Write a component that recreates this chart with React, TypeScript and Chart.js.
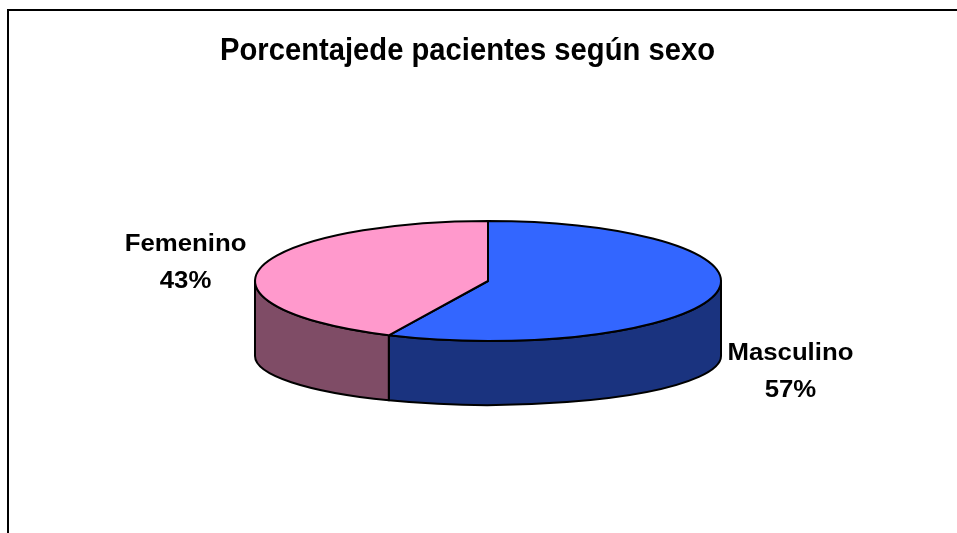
import React, { useEffect, useRef } from 'react';
import { Chart, registerables } from 'chart.js';

Chart.register(...registerables);

const TITLE = 'Porcentajede pacientes según sexo';
const categories = ['Masculino', 'Femenino'];
const values = [57, 43];
const topColors = ['#3366FF', '#FF99CC'];
const sideColors = ['#1A337F', '#7F4C66'];

const TILT = 60 / 233;
const DEPTH = 75;
const BOTTOM_TILT = 49 / 233;
const FONT = '"Liberation Sans", Arial, Helvetica, sans-serif';

export default function App() {
  const ref = useRef<HTMLCanvasElement>(null);

  useEffect(() => {
    const canvas = ref.current!;
    const total = values.reduce((a, b) => a + b, 0);

    const pie3d = {
      id: 'pie3d',
      beforeDraw(chart: any) {
        const ctx = chart.ctx;
        ctx.save();
        ctx.fillStyle = '#ffffff';
        ctx.fillRect(0, 0, chart.width, chart.height);
        ctx.strokeStyle = '#000';
        ctx.lineWidth = 2;
        ctx.beginPath();
        ctx.moveTo(8, chart.height + 2);
        ctx.lineTo(8, 10);
        ctx.lineTo(chart.width + 2, 10);
        ctx.stroke();
        ctx.restore();
      },
      beforeDatasetsDraw(chart: any) {
        const meta = chart.getDatasetMeta(0);
        const arcs = meta.data as any[];
        if (!arcs.length) return false;
        const ctx = chart.ctx;
        const cx = arcs[0].x;
        const cy = arcs[0].y;
        const rx = arcs[0].outerRadius;
        const ry = rx * TILT;
        const by = cy + DEPTH;
        const bry = rx * BOTTOM_TILT;
        ctx.save();
        ctx.lineWidth = 2;
        ctx.strokeStyle = '#000';
        ctx.lineJoin = 'round';
        // side walls (front half)
        arcs.forEach((arc, i) => {
          const a = Math.max(arc.startAngle, 0);
          const b = Math.min(arc.endAngle, Math.PI);
          if (b <= a) return;
          ctx.beginPath();
          ctx.ellipse(cx, cy, rx, ry, 0, a, b, false);
          ctx.lineTo(cx + rx * Math.cos(b), by + bry * Math.sin(b));
          ctx.ellipse(cx, by, rx, bry, 0, b, a, true);
          ctx.closePath();
          ctx.fillStyle = sideColors[i];
          ctx.fill();
          ctx.stroke();
        });
        // top faces
        arcs.forEach((arc, i) => {
          ctx.beginPath();
          ctx.moveTo(cx, cy);
          ctx.ellipse(cx, cy, rx, ry, 0, arc.startAngle, arc.endAngle, false);
          ctx.closePath();
          ctx.fillStyle = topColors[i];
          ctx.fill();
          ctx.stroke();
        });
        // labels
        ctx.fillStyle = '#000';
        ctx.font = 'bold 23px ' + FONT;
        ctx.textAlign = 'center';
        ctx.textBaseline = 'alphabetic';
        arcs.forEach((arc, i) => {
          const mid = (arc.startAngle + arc.endAngle) / 2;
          const s = Math.sin(mid);
          const lx = cx + Math.cos(mid) * rx * 1.33;
          const ly = cy + s * ry * 1.33 + 5 + (s > 0 ? DEPTH : 0);
          const pct = Math.round((values[i] / total) * 100) + '%';
          ctx.save();
          ctx.translate(lx, ly);
          ctx.scale(1.12, 1);
          ctx.fillText(categories[i], 0, -18);
          ctx.fillText(pct, 0, 19);
          ctx.restore();
        });
        ctx.restore();
        return false;
      },
      afterDraw(chart: any) {
        const ctx = chart.ctx;
        ctx.save();
        ctx.fillStyle = '#000';
        ctx.font = 'bold 32px ' + FONT;
        ctx.textAlign = 'center';
        ctx.textBaseline = 'alphabetic';
        const w = ctx.measureText(TITLE).width;
        ctx.translate(467.5, 60);
        ctx.scale(495 / w, 1);
        ctx.fillText(TITLE, 0, 0);
        ctx.restore();
      },
    };

    const chart = new Chart(canvas, {
      type: 'pie',
      data: {
        labels: categories,
        datasets: [
          {
            data: values,
            backgroundColor: topColors,
            borderWidth: 0,
          },
        ],
      },
      options: {
        responsive: false,
        animation: false,
        radius: 233,
        events: [],
        layout: { padding: { top: 60, bottom: 31, left: 19, right: 0 } },
        plugins: {
          legend: { display: false },
          tooltip: { enabled: false },
          title: { display: false },
        },
      } as any,
      plugins: [pie3d],
    });
    return () => chart.destroy();
  }, []);

  return (
    <div style={{ position: 'fixed', left: 0, top: 0, width: 957, height: 533, background: '#fff' }}>
      <canvas ref={ref} width={957} height={533} style={{ display: 'block' }} />
    </div>
  );
}
